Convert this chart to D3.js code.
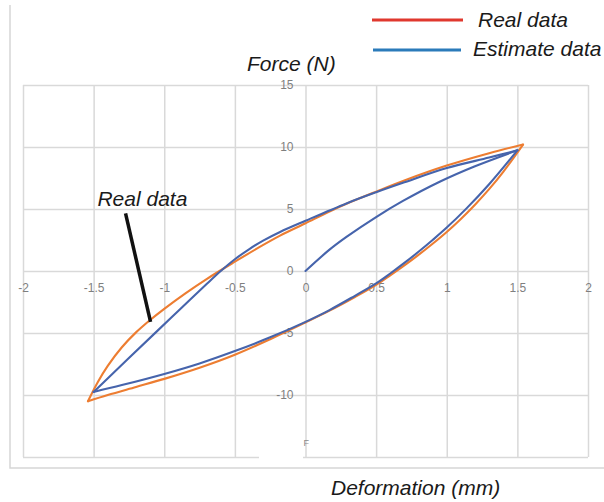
<!DOCTYPE html>
<html>
<head>
<meta charset="utf-8">
<script src="https://cdn.jsdelivr.net/npm/d3@7/dist/d3.min.js"></script>
<style>
  html, body { margin: 0; padding: 0; background: #fff; }
  svg { display: block; }
  text { font-family: "Liberation Sans", Arial, sans-serif; }
</style>
</head>
<body>
<svg id="chart" width="604" height="502"></svg>
<script>
// Axis ticks
const xTicks = [-2, -1.5, -1, -0.5, 0, 0.5, 1, 1.5, 2];
const xTickLabels = ["-2", "-1.5", "-1", "-0.5", "0", "0.5", "1", "1.5", "2"];
const yTicks = [-15, -10, -5, 0, 5, 10, 15];
const yTickLabels = ["", "-10", "-5", "0", "5", "10", "15"];

// Measured hysteresis loop (deformation mm, force N)
const realUnloading = [
  [1.54, 10.2], [1.3, 9.5], [1.0, 8.5], [0.7, 7.3], [0.5, 6.4], [0.29, 5.42],
  [0.17, 4.8], [0, 3.85], [-0.18, 2.85], [-0.33, 1.9], [-0.5, 0.75], [-0.7, -0.65],
  [-0.85, -1.8], [-1.0, -3.05], [-1.1, -3.95], [-1.2, -4.95], [-1.3, -6.15],
  [-1.4, -7.65], [-1.47, -8.95], [-1.54, -10.5]
];
const realLoading = [
  [-1.54, -10.5], [-1.4, -10.0], [-1.2, -9.35], [-1.0, -8.7], [-0.75, -7.8],
  [-0.5, -6.75], [-0.25, -5.5], [0, -4.15], [0.17, -3.2], [0.35, -2.1],
  [0.5, -1.12], [0.6, -0.35], [0.7, 0.45], [0.8, 1.3], [0.9, 2.2], [1.0, 3.15],
  [1.1, 4.2], [1.2, 5.35], [1.3, 6.6], [1.4, 8.0], [1.54, 10.2]
];

// Model estimate (deformation mm, force N)
const estimateInitial = [
  [0, 0], [0.17, 1.72], [0.29, 2.75], [0.5, 4.35], [0.69, 5.65], [0.95, 7.2],
  [1.2, 8.45], [1.5, 9.73]
];
const estimateUnloading = [
  [1.5, 9.73], [1.3, 9.15], [1.0, 8.3], [0.7, 7.15], [0.5, 6.35], [0.29, 5.45],
  [0, 4.05], [-0.18, 3.15], [-0.3, 2.45], [-0.4, 1.75], [-0.5, 0.95], [-0.6, 0.0],
  [-0.7, -1.05], [-0.89, -3.1], [-1.06, -4.95], [-1.5, -9.75]
];
const estimateLoading = [
  [-1.5, -9.75], [-1.3, -9.2], [-1.0, -8.3], [-0.75, -7.45], [-0.5, -6.45],
  [-0.25, -5.35], [0, -4.1], [0.17, -3.15], [0.35, -2.0], [0.5, -1.0],
  [0.6, -0.2], [0.7, 0.65], [0.8, 1.55], [0.9, 2.5], [1.0, 3.5], [1.14, 5.05],
  [1.3, 7.0], [1.5, 9.73]
];

// Callout pointing at the measured curve
const calloutText = [-1.473, 5.22];
const calloutLine = [[-1.274, 4.65], [-1.097, -4.11]];

const svg = d3.select("#chart");
const x = d3.scaleLinear().domain([-2, 2]).range([23, 588]);
const y = d3.scaleLinear().domain([-15, 15]).range([457, 85]);

const gridColor = "#d9d9d9";

// Outer chart frame (left and bottom edges)
svg.append("path")
  .attr("d", "M10,5V468H604")
  .attr("fill", "none")
  .attr("stroke", "#d6d6d6")
  .attr("stroke-width", 1.5);

// Vertical gridlines
const gx = svg.append("g")
  .attr("transform", `translate(0,${y(-15)})`)
  .call(d3.axisBottom(x).tickValues(xTicks).tickSize(-(y(-15) - y(15))).tickFormat(""));
gx.select(".domain").remove();
gx.selectAll("line").attr("stroke", gridColor).attr("stroke-width", 1.5);

// Horizontal gridlines
const gy = svg.append("g")
  .attr("transform", `translate(${x(-2)},0)`)
  .call(d3.axisLeft(y).tickValues(yTicks).tickSize(-(x(2) - x(-2))).tickFormat(""));
gy.select(".domain").remove();
gy.selectAll("line").attr("stroke", gridColor).attr("stroke-width", 1.5);

// Break in the bottom border
svg.append("rect")
  .attr("x", 259).attr("y", 454).attr("width", 44).attr("height", 6)
  .attr("fill", "#fff");

// X tick labels along the zero line
const xl = svg.append("g")
  .attr("transform", `translate(0,${y(0)})`)
  .call(d3.axisBottom(x).tickValues(xTicks).tickSize(0).tickPadding(12)
    .tickFormat((d, i) => xTickLabels[i]));
xl.select(".domain").remove();
xl.selectAll("text")
  .attr("fill", "#7f7f7f")
  .style("font-size", "12px")
  .style("font-family", "'Liberation Sans', Arial, sans-serif");

// Y tick labels beside the zero line
const yl = svg.append("g")
  .attr("transform", `translate(${x(0)},0)`)
  .call(d3.axisLeft(y).tickValues(yTicks).tickSize(0).tickPadding(12)
    .tickFormat((d, i) => yTickLabels[i]));
yl.select(".domain").remove();
yl.selectAll("text")
  .attr("fill", "#7f7f7f")
  .style("font-size", "12px")
  .style("font-family", "'Liberation Sans', Arial, sans-serif");

// Stray axis glyph near the bottom of the zero line
svg.append("text")
  .attr("x", x(0) - 2).attr("y", 446)
  .attr("fill", "#8a8a8a")
  .style("font-size", "9px")
  .text("F");

// Curves
const line = d3.line()
  .x(d => x(d[0]))
  .y(d => y(d[1]))
  .curve(d3.curveCatmullRom.alpha(0.5));

const realColor = "#ED7D31";
const estColor = "#4664AC";

[realUnloading, realLoading].forEach(s => {
  svg.append("path")
    .attr("d", line(s))
    .attr("fill", "none")
    .attr("stroke", realColor)
    .attr("stroke-width", 2.1)
    .attr("stroke-linecap", "round")
    .attr("stroke-linejoin", "round");
});
[estimateInitial, estimateUnloading, estimateLoading].forEach(s => {
  svg.append("path")
    .attr("d", line(s))
    .attr("fill", "none")
    .attr("stroke", estColor)
    .attr("stroke-width", 2.1)
    .attr("stroke-linecap", "round")
    .attr("stroke-linejoin", "round");
});

// Callout
svg.append("line")
  .attr("x1", x(calloutLine[0][0])).attr("y1", y(calloutLine[0][1]))
  .attr("x2", x(calloutLine[1][0])).attr("y2", y(calloutLine[1][1]))
  .attr("stroke", "#111")
  .attr("stroke-width", 3.5);
svg.append("text")
  .attr("x", x(calloutText[0])).attr("y", y(calloutText[1]))
  .attr("fill", "#1a1a1a")
  .style("font-size", "21px")
  .style("font-style", "italic")
  .text("Real data");

// Axis titles
svg.append("text")
  .attr("x", 247).attr("y", 71)
  .attr("fill", "#1a1a1a")
  .style("font-size", "21px")
  .style("font-style", "italic")
  .text("Force (N)");
svg.append("text")
  .attr("x", 331).attr("y", 495)
  .attr("fill", "#1a1a1a")
  .style("font-size", "21px")
  .style("font-style", "italic")
  .text("Deformation (mm)");

// Legend
const legendItems = [
  { label: "Real data", color: "#E0382E", x1: 372, x2: 463, ly: 20, tx: 478, ty: 27 },
  { label: "Estimate data", color: "#2B7BBA", x1: 373, x2: 461, ly: 50, tx: 473, ty: 56 }
];
legendItems.forEach(d => {
  svg.append("line")
    .attr("x1", d.x1).attr("x2", d.x2).attr("y1", d.ly).attr("y2", d.ly)
    .attr("stroke", d.color).attr("stroke-width", 3);
  svg.append("text")
    .attr("x", d.tx).attr("y", d.ty)
    .attr("fill", "#1a1a1a")
    .style("font-size", "21px")
    .style("font-style", "italic")
    .text(d.label);
});
</script>
</body>
</html>
